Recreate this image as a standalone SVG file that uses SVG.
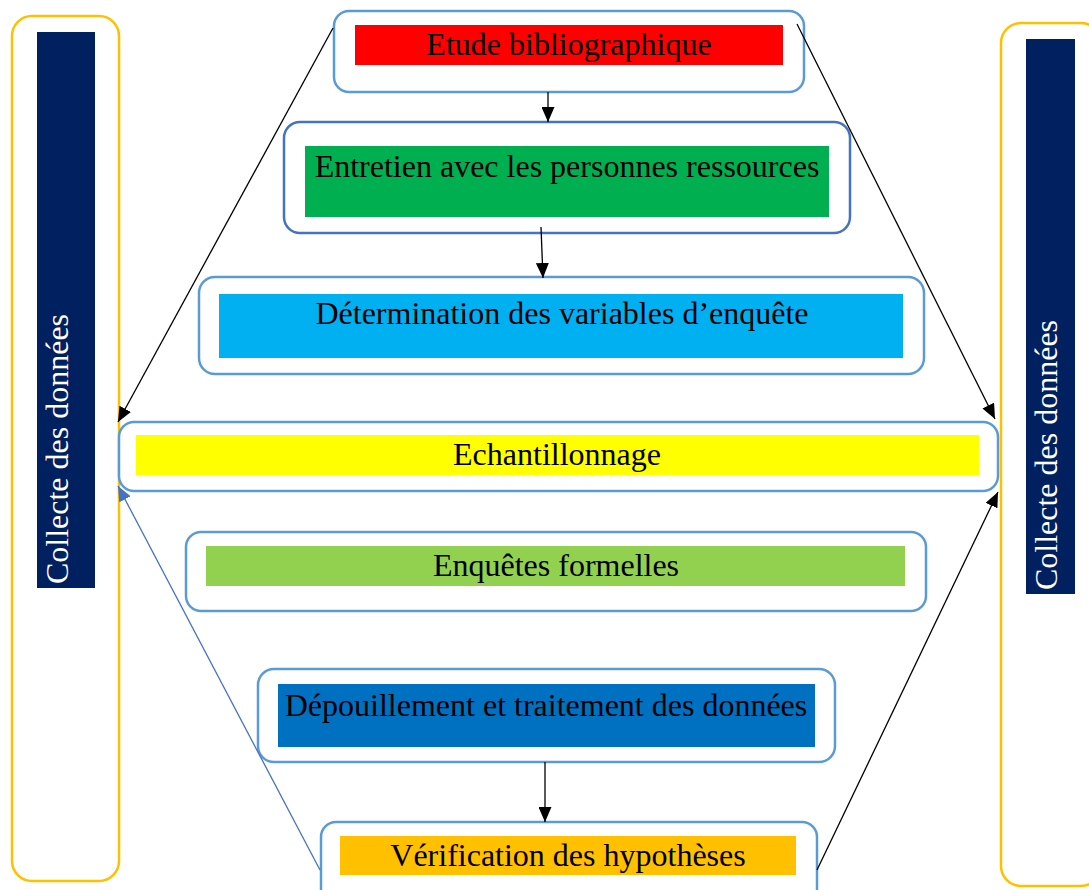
<svg xmlns="http://www.w3.org/2000/svg" width="1089" height="890" viewBox="0 0 1089 890">
<defs>
<style>
.frame{fill:#fff;stroke:#5B9BD5;stroke-width:2.5}
.frame2{fill:#fff;stroke:#4472C4;stroke-width:2.5}
.side{fill:#fff;stroke:#FFC000;stroke-width:2.5}
.lbl{font-family:"Liberation Serif","Times New Roman",serif;font-size:32px;fill:#000;text-anchor:middle}
.vlbl{font-family:"Liberation Serif","Times New Roman",serif;font-size:32px;fill:#fff;text-anchor:middle}
.con{fill:none;stroke:#000;stroke-width:1.3}
.conb{fill:none;stroke:#4472C4;stroke-width:1.3}
</style>
<marker id="ah" markerUnits="userSpaceOnUse" markerWidth="15" markerHeight="13" refX="15" refY="6.5" orient="auto">
<path d="M0,0 L15,6.5 L0,13 z" fill="#000"/>
</marker>
<marker id="ahb" markerUnits="userSpaceOnUse" markerWidth="15" markerHeight="13" refX="15" refY="6.5" orient="auto">
<path d="M0,0 L15,6.5 L0,13 z" fill="#4472C4"/>
</marker>
</defs>
<rect width="1089" height="890" fill="#fff"/>

<g id="side-left">
<rect class="side" x="12" y="16" width="107" height="865" rx="20"/>
<rect x="37" y="32" width="58" height="556" fill="#002060"/>
<text class="vlbl" transform="translate(68,449) rotate(-90)">Collecte des données</text>
</g>

<g id="side-right">
<rect class="side" x="1001" y="23" width="100" height="863" rx="20"/>
<rect x="1026" y="39" width="49" height="555" fill="#002060"/>
<text class="vlbl" transform="translate(1057,455) rotate(-90)">Collecte des données</text>
</g>

<g id="n1">
<rect class="frame" x="334" y="11" width="470" height="81" rx="15"/>
<rect x="355" y="25" width="428" height="40" fill="#FF0000"/>
<text class="lbl" x="569" y="55">Etude bibliographique</text>
</g>

<g id="n2">
<rect class="frame2" x="284" y="122" width="566" height="111" rx="16"/>
<rect x="305" y="146" width="524" height="71" fill="#00B050"/>
<text class="lbl" x="567" y="177">Entretien avec les personnes ressources</text>
</g>

<g id="n3">
<rect class="frame" x="199" y="277" width="725" height="97" rx="16"/>
<rect x="219" y="294" width="684" height="64" fill="#00B0F0"/>
<text class="lbl" x="562" y="324">Détermination des variables d’enquête</text>
</g>

<g id="n4">
<rect class="frame" x="119" y="422" width="879" height="69" rx="15"/>
<rect x="136" y="435" width="843" height="40" fill="#FFFF00"/>
<text class="lbl" x="557" y="465">Echantillonnage</text>
</g>

<g id="n5">
<rect class="frame" x="186" y="532" width="740" height="79" rx="15"/>
<rect x="206" y="546" width="699" height="40" fill="#92D050"/>
<text class="lbl" x="556" y="576">Enquêtes formelles</text>
</g>

<g id="n6">
<rect class="frame" x="258" y="669" width="577" height="93" rx="16"/>
<rect x="278" y="684" width="537" height="63" fill="#0070C0"/>
<text class="lbl" x="546" y="716">Dépouillement et traitement des données</text>
</g>

<g id="n7">
<rect class="frame" x="321" y="822" width="496" height="90" rx="15"/>
<rect x="340" y="836" width="456" height="39" fill="#FFC000"/>
<text class="lbl" x="568" y="866">Vérification des hypothèses</text>
</g>

<g id="connectors">
<line class="con" x1="548" y1="92" x2="548" y2="122" marker-end="url(#ah)"/>
<line class="con" x1="541" y1="227" x2="543" y2="278" marker-end="url(#ah)"/>
<line class="con" x1="545" y1="762" x2="545" y2="822" marker-end="url(#ah)"/>
<line class="con" x1="333" y1="28" x2="118" y2="422" marker-end="url(#ah)"/>
<line class="con" x1="797" y1="24" x2="995" y2="419" marker-end="url(#ah)"/>
<line class="con" x1="817" y1="870" x2="998" y2="492" marker-end="url(#ah)"/>
<line class="conb" x1="320" y1="870" x2="118" y2="486" marker-end="url(#ahb)"/>
</g>
</svg>
